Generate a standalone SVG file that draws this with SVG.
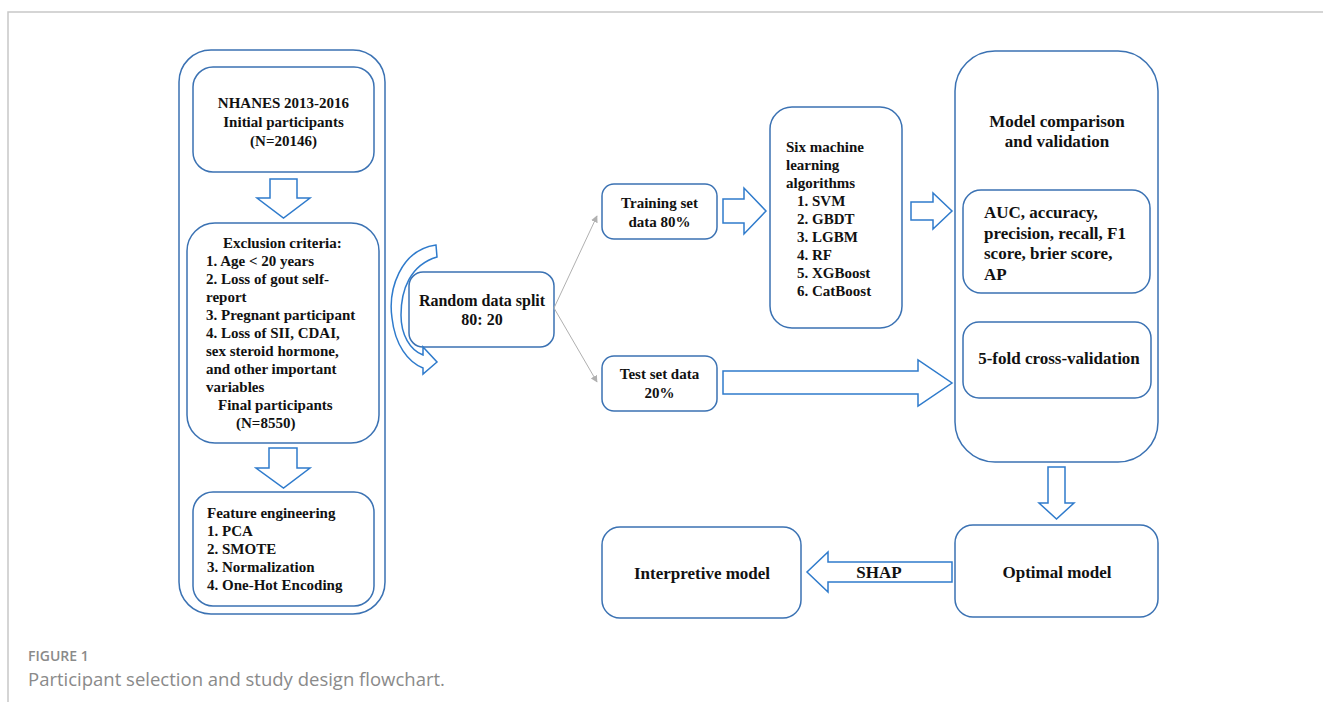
<svg xmlns="http://www.w3.org/2000/svg" width="1331" height="702" viewBox="0 0 1331 702">
<style>
.box{fill:#fff;stroke:#3b72b3;stroke-width:1.5}
.arr{fill:#fff;stroke:#2f7bcc;stroke-width:1.5;stroke-linejoin:miter}
.t{font-family:"Liberation Serif","Times New Roman",serif;font-weight:bold;fill:#111}
.s15{font-size:15px}
.s16{font-size:16px}
.s17{font-size:17px}
.m{text-anchor:middle}
.gl{stroke:#b0b0b0;stroke-width:1;fill:none}
.cap{font-family:"Open Sans","Liberation Sans",sans-serif;fill:#8a8a8a}
</style>
<defs>
<marker id="ga" viewBox="0 0 10 10" refX="9" refY="5" markerWidth="7" markerHeight="7" orient="auto" markerUnits="userSpaceOnUse">
<path d="M0 0 L10 5 L0 10 Z" fill="#b0b0b0"/>
</marker>
</defs>
<rect width="1331" height="702" fill="#fff"/>
<path d="M8 702 V12 H1323" fill="none" stroke="#c8c8c8" stroke-width="1.5"/>

<g id="left-panel">
<rect class="box" x="179" y="50" width="206" height="564" rx="32"/>
</g>
<g id="nhanes">
<rect class="box" x="193" y="67" width="181" height="105" rx="20"/>
<text class="t s15 m" x="283.5" y="108">NHANES 2013-2016</text>
<text class="t s15 m" x="283.5" y="127">Initial participants</text>
<text class="t s15 m" x="283.5" y="146">(N=20146)</text>
</g>
<g id="exclusion">
<rect class="box" x="187" y="223" width="192" height="220" rx="28"/>
<g class="t s15">
<text x="223" y="248">Exclusion criteria:</text>
<text x="206" y="266">1. Age &lt; 20 years</text>
<text x="206" y="284">2. Loss of gout self-</text>
<text x="206" y="302">report</text>
<text x="206" y="320">3. Pregnant participant</text>
<text x="206" y="338">4. Loss of SII, CDAI,</text>
<text x="206" y="356">sex steroid hormone,</text>
<text x="206" y="374">and other important</text>
<text x="206" y="392">variables</text>
<text x="218" y="410">Final participants</text>
<text x="236" y="428">(N=8550)</text>
</g>
</g>
<g id="feature">
<rect class="box" x="193" y="492" width="181" height="114" rx="20"/>
<g class="t s15">
<text x="207" y="518">Feature engineering</text>
<text x="207" y="536">1. PCA</text>
<text x="207" y="554">2. SMOTE</text>
<text x="207" y="572">3. Normalization</text>
<text x="207" y="590">4. One-Hot Encoding</text>
</g>
</g>
<g id="split">
<rect class="box" x="409" y="272" width="145" height="75" rx="14"/>
<text class="t s16 m" x="482" y="306">Random data split</text>
<text class="t s16 m" x="482" y="325">80: 20</text>
</g>
<g id="training">
<rect class="box" x="602" y="184" width="115" height="55" rx="12"/>
<text class="t s15 m" x="659.5" y="208">Training set</text>
<text class="t s15 m" x="659.5" y="227">data 80%</text>
</g>
<g id="test">
<rect class="box" x="602" y="356" width="115" height="55" rx="12"/>
<text class="t s15 m" x="659.5" y="379">Test set data</text>
<text class="t s15 m" x="659.5" y="398">20%</text>
</g>
<g id="algorithms">
<rect class="box" x="770" y="107" width="132" height="221" rx="22"/>
<g class="t s15">
<text x="786" y="152">Six machine</text>
<text x="786" y="170">learning</text>
<text x="786" y="188">algorithms</text>
<text x="797" y="206">1. SVM</text>
<text x="797" y="224">2. GBDT</text>
<text x="797" y="242">3. LGBM</text>
<text x="797" y="260">4. RF</text>
<text x="797" y="278">5. XGBoost</text>
<text x="797" y="296">6. CatBoost</text>
</g>
</g>
<g id="comparison">
<rect class="box" x="955" y="51" width="203" height="411" rx="40"/>
<text class="t s17 m" x="1057" y="127">Model comparison</text>
<text class="t s17 m" x="1057" y="147">and validation</text>
</g>
<g id="metrics">
<rect class="box" x="963" y="190" width="187" height="103" rx="18"/>
<g class="t s17">
<text x="984" y="218">AUC, accuracy,</text>
<text x="984" y="239">precision, recall, F1</text>
<text x="984" y="259">score, brier score,</text>
<text x="984" y="280">AP</text>
</g>
</g>
<g id="cv">
<rect class="box" x="963" y="322" width="188" height="76" rx="16"/>
<text class="t s17 m" x="1059" y="364">5-fold cross-validation</text>
</g>
<g id="optimal">
<rect class="box" x="955" y="525" width="203" height="92" rx="18"/>
<text class="t s17 m" x="1057" y="578">Optimal model</text>
</g>
<g id="interpretive">
<rect class="box" x="602" y="527" width="199" height="91" rx="18"/>
<text class="t s17 m" x="702" y="579">Interpretive model</text>
</g>

<g id="connectors">
<path class="arr" d="M270 179 H297 V198 H310 L283.5 218 L257 198 H270 Z"/>
<path class="arr" d="M269 448 H297 V468 H310 L283.5 488 L256 468 H269 Z"/>
<path class="arr" d="M436 245 C400 250 388 290 392 318 C395 345 408 362 423 368 L423 374 L437 362 L423 347 L423 355 C410 350 401 335 401 315 C401 290 410 265 437 257 Z"/>
<line class="gl" x1="554" y1="308" x2="597" y2="216" marker-end="url(#ga)"/>
<line class="gl" x1="554" y1="308" x2="597" y2="382" marker-end="url(#ga)"/>
<path class="arr" d="M723 199 H744 V188 L766 211 L744 234 V223 H723 Z"/>
<path class="arr" d="M911 202 H933 V193 L952 211 L933 229 V220 H911 Z"/>
<path class="arr" d="M723 371 H918 V360 L952 383 L918 406 V394 H723 Z"/>
<path class="arr" d="M1048 467 H1065 V503 H1074 L1056.5 519 L1039 503 H1048 Z"/>
<path class="arr" d="M952 562 H828 V552 L807 572 L828 592 V582 H952 Z"/>
<text class="t s17 m" x="879" y="578">SHAP</text>
</g>

<g id="caption">
<text class="cap" x="28" y="661" font-size="14" font-weight="600">FIGURE 1</text>
<text class="cap" x="28" y="686" font-size="18.5">Participant selection and study design flowchart.</text>
</g>
</svg>
